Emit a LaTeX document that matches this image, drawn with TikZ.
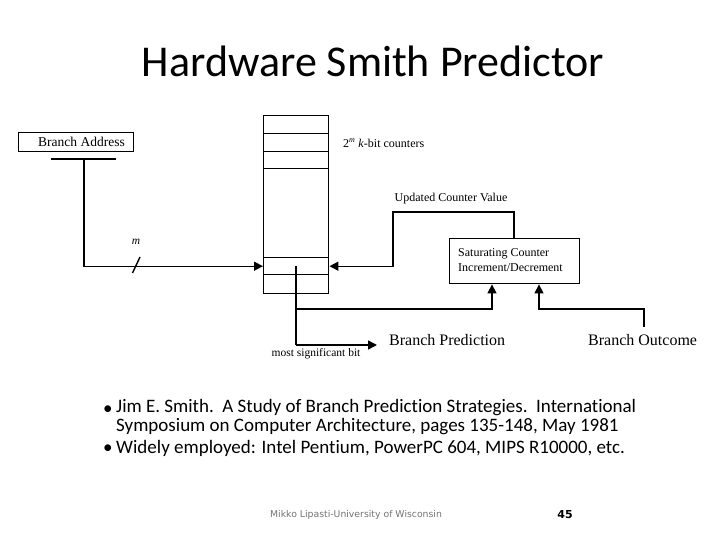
\documentclass[tikz,border=0pt]{standalone}
\usepackage{fontspec}
\setmainfont{Carlito}[Ligatures=NoCommon]
\newfontfamily\tms{Liberation Serif}
\newfontfamily\ftr{DejaVu Sans}
\usetikzlibrary{arrows.meta}
\begin{document}
\begin{tikzpicture}[x=1pt,y=-1pt,
  ln/.style={line width=1.4pt},
  arr/.style={ln,-{Triangle[length=9pt,width=9pt]}},
  box/.style={draw,line width=1.4pt,inner sep=0pt,anchor=north west},
  dtxt/.style={font=\tms\fontsize{12}{14}\selectfont,inner sep=0pt},
  btxt/.style={font=\tms\fontsize{16}{18}\selectfont,inner sep=0pt,anchor=west},
  bul/.style={font=\fontsize{19}{19.5}\selectfont,inner sep=0pt,anchor=base west}]
\useasboundingbox (0,0) rectangle (720,540);
% title
\node[anchor=base,inner sep=0pt,font=\fontsize{44}{50}\selectfont] (title) at (373,77) {Hardware Smith Predictor};
% branch address
\node[box,minimum width=115pt,minimum height=19pt] (addr) at (18,132) {};
\node[dtxt,font=\tms\fontsize{13.5}{15}\selectfont] (addrlbl) at (81.5,141.5) {Branch Address};
\coordinate (barL) at (51,159);
\coordinate (barR) at (116,159);
\draw[ln] (barL) -- (barR);
\coordinate (barM) at (84,159);
% counter table
\node[box,minimum width=65pt,minimum height=178pt] (table) at (263,115) {};
\node[box,minimum width=65pt,minimum height=18pt] (r1) at (263,115) {};
\node[box,minimum width=65pt,minimum height=18pt] (r2) at (263,133) {};
\node[box,minimum width=65pt,minimum height=17pt] (r3) at (263,151) {};
\node[box,minimum width=65pt,minimum height=17pt] (idx) at (263,257) {};
\node[box,minimum width=65pt,minimum height=19pt] (r5) at (263,274) {};
\node[dtxt,anchor=west] (cnt) at (343,143) {2\textsuperscript{\itshape m} \textit{k}-bit counters};
% index path
\draw[arr] (barM) |- (idx.west);
\coordinate (s1) at (132.5,273);
\coordinate (s2) at (140,257);
\draw[ln] (s1) -- (s2);
\node[dtxt,font=\tms\itshape\fontsize{11.5}{13}\selectfont] (mlbl) at (136,242) {m};
% saturating counter
\node[box,minimum width=130pt,minimum height=45pt] (sat) at (449,238) {};
\node[dtxt,anchor=west,align=left] (satlbl) at (458,260.5) {Saturating Counter\\[1pt]Increment/Decrement};
\node[dtxt] (upd) at (451,199) {Updated Counter Value};
\coordinate (u1) at (514,212);
\coordinate (u2) at (393,212);
\draw[arr] (sat.north -| u1) -- (u1) -- (u2) |- (idx.east);
% prediction
\coordinate (msb) at (296,265.5);
\coordinate (p1) at (296,345);
\coordinate (pArr) at (377,345);
\draw[ln] (msb) -- (p1);
\draw[arr] (p1) -- (pArr);
\coordinate (q1) at (296,309);
\coordinate (q2) at (492,309);
\draw[arr] (q1) -- (q2) -- (q2 |- sat.south);
\coordinate (o1) at (644,327);
\coordinate (o2) at (644,309);
\coordinate (o3) at (539,309);
\draw[arr] (o1) -- (o2) -- (o3) -- (o3 |- sat.south);
\node[btxt] (bp) at (389,340) {Branch Prediction};
\node[btxt] (bo) at (588,340) {Branch Outcome};
\node[dtxt,font=\tms\fontsize{11.5}{13}\selectfont] (msblbl) at (316,354) {most significant bit};
% bullets
\node[bul] (b1) at (103,414) {•};
\node[bul,align=left,anchor=north west] (t1) at (116,399) {Jim E. Smith.\ \ A Study of Branch Prediction Strategies.\ \ International\\Symposium on Computer Architecture, pages 135-148, May 1981};
\node[bul] (b2) at (103,453) {•};
\node[bul] (t3) at (116,453) {Widely employed: Intel Pentium, PowerPC 604, MIPS R10000, etc.};
% footer
\node[font=\ftr\fontsize{9.3}{11}\selectfont,text=black!55,anchor=west,inner sep=0pt] (foot) at (270,515) {Mikko Lipasti-University of Wisconsin};
\node[font=\ftr\bfseries\fontsize{11}{13}\selectfont,inner sep=0pt] (pg) at (565,515) {45};
\end{tikzpicture}
\end{document}
